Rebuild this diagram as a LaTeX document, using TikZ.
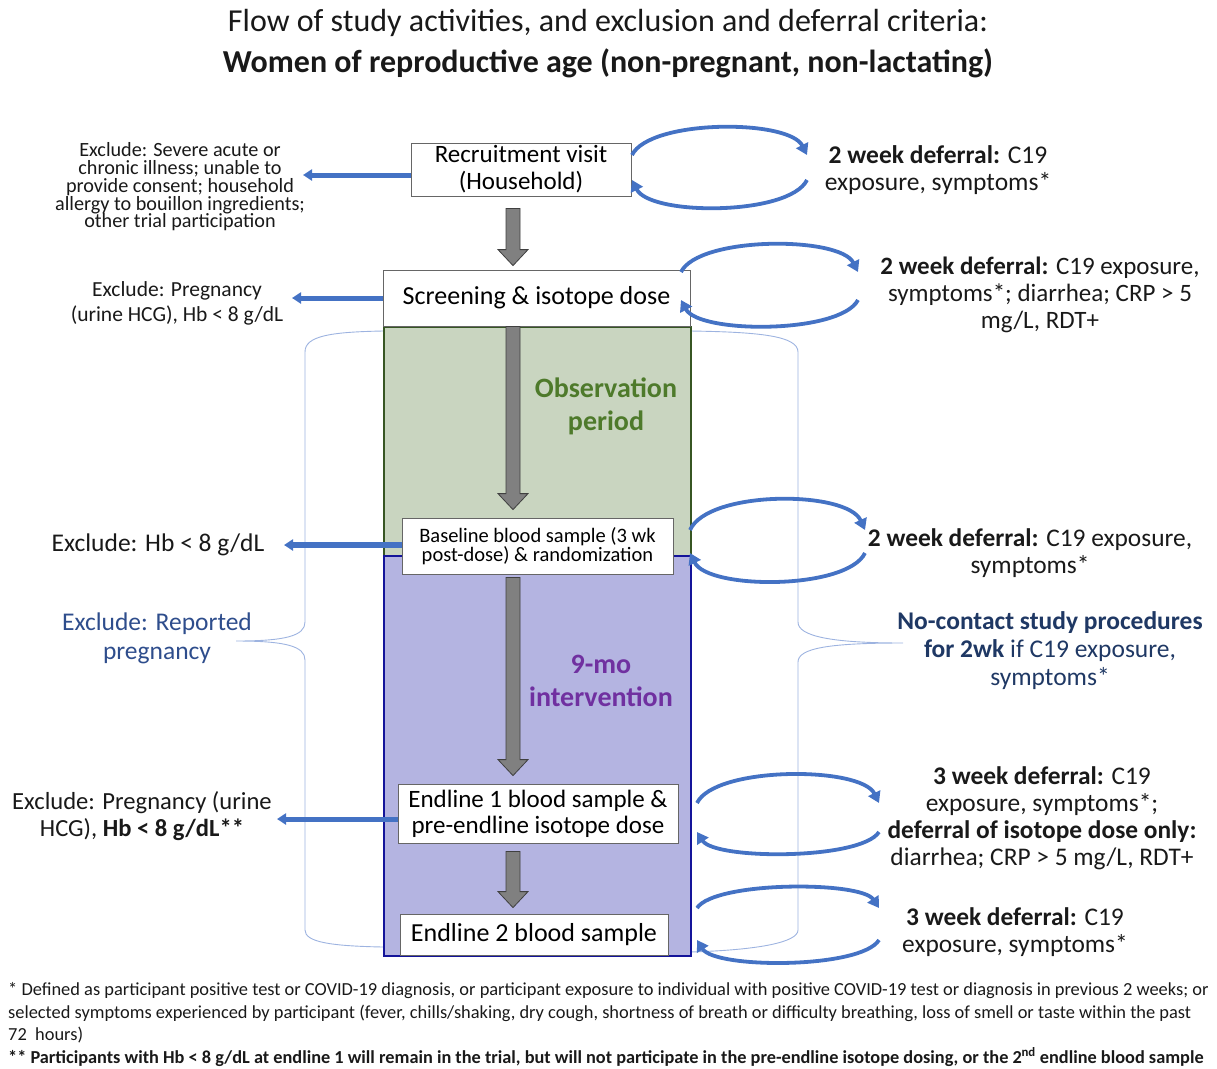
\documentclass[tikz,border=0pt]{standalone}
\usepackage{fontspec}
\setmainfont{Carlito}
\usetikzlibrary{arrows.meta,calc}
\definecolor{exblue}{HTML}{4472C4}
\definecolor{obsfill}{RGB}{201,213,192}
\definecolor{obsline}{HTML}{375623}
\definecolor{obstext}{HTML}{4E7A2B}
\definecolor{intfill}{RGB}{180,180,225}
\definecolor{intline}{HTML}{14149A}
\definecolor{inttext}{HTML}{7030A0}
\definecolor{bracecol}{HTML}{9DB3E0}
\definecolor{repcol}{HTML}{2E4D8C}
\definecolor{navy}{HTML}{1F3864}
\definecolor{arrgray}{HTML}{808080}
\definecolor{arrline}{HTML}{404040}
\newcommand\fs[2]{\fontsize{#1}{#2}\selectfont}
\tikzset{
  stepbox/.style={draw=black!60, fill=white, line width=0.8pt, align=center, inner sep=0pt},
  exarrow/.style={draw=exblue, line width=5pt, -{Triangle[length=9pt,width=11pt]}},
  loopar/.style={draw=exblue, line width=3.8pt, -{Triangle[length=11pt,width=13pt]}},
  brace/.style={draw=bracecol, line width=0.9pt},
  garrow/.style={fill=arrgray, draw=arrline, line width=0.8pt},
  lbl/.style={align=center, inner sep=0pt, text=black!90},
}
\newcommand\grayarrow[4]{%
  \path[garrow] let \p0=(spine), \p1=(#1), \p2=(#2) in
    (\x0-7pt,\y1-#3) -- (\x0+7pt,\y1-#3) -- (\x0+7pt,\y2+#4+16pt) -- (\x0+15pt,\y2+#4+16pt)
    -- (\x0,\y2+#4) -- (\x0-15pt,\y2+#4+16pt) -- (\x0-7pt,\y2+#4+16pt) -- cycle;}
\newcommand\deferloop[6]{%
  \draw[loopar] (#1,#3) .. controls ($(#1,#4)+(18,0)$) and ($(#2,#4)+(-18,0)$) .. (#2,#3);
  \draw[loopar] (#2,#5) .. controls ($(#2,#6)+(-18,0)$) and ($(#1,#6)+(18,0)$) .. (#1,#5);}
\begin{document}
\begin{tikzpicture}[x=1pt,y=-1pt]
\path[use as bounding box] (0,0) rectangle (1217,1068);
\coordinate (spine) at (513,0);

% title
\node[lbl, font=\fs{32}{38}] (t1) at (608,23) {Flow of study activities, and exclusion and deferral criteria:};
\node[lbl, font=\fs{32}{38}\bfseries] (t2) at (608,63) {Women of reproductive age (non-pregnant, non-lactating)};

% braces (behind)
\draw[brace] (383,331) .. controls (330,332) and (305,336) .. (305,352) -- (305,622)
  .. controls (305,636) and (285,641) .. (236,641)
  .. controls (285,641) and (305,646) .. (305,660) -- (305,930)
  .. controls (305,942) and (330,946) .. (383,947);
\draw[brace] (690,331) .. controls (760,332) and (798,336) .. (798,352) -- (798,622)
  .. controls (798,636) and (830,643) .. (903,643)
  .. controls (830,643) and (798,648) .. (798,662) -- (798,930)
  .. controls (798,942) and (760,950) .. (690,952);

% period rectangles
\node[draw=obsline, fill=obsfill, line width=1.6pt, minimum width=307pt, minimum height=229pt, anchor=north west, inner sep=0pt] (obs) at (383,326) {};
\node[draw=intline, fill=intfill, line width=1.6pt, minimum width=307pt, minimum height=400pt, anchor=north west, inner sep=0pt] (int) at (383,555) {};
\node[lbl, text=obstext, font=\fs{28}{33}\bfseries] (obst) at (606,406) {Observation\\period};
\node[lbl, text=inttext, font=\fs{28}{33}\bfseries] (intt) at (601,681) {9-mo\\intervention};

% step boxes
\node[stepbox, minimum width=220pt, minimum height=53pt, font=\fs{25}{27}] (rec) at (521,169.5) {Recruitment visit\\(Household)};
\node[stepbox, minimum width=307pt, minimum height=56pt, font=\fs{26}{28}] (scr) at (536.5,298) {Screening \& isotope dose};
\node[stepbox, minimum width=271pt, minimum height=56pt, font=\fs{20.5}{18}] (base) at (537.5,546) {Baseline blood sample (3 wk\\post-dose) \& randomization};
\node[stepbox, minimum width=280pt, minimum height=59pt, font=\fs{25}{26}] (end1) at (538,813.5) {Endline 1 blood sample \&\\pre-endline isotope dose};
\node[stepbox, minimum width=268pt, minimum height=41pt, font=\fs{26}{28}] (end2) at (534,934.5) {Endline 2 blood sample};

% gray flow arrows
\grayarrow{rec.south}{scr.north}{12pt}{4pt}
\grayarrow{scr.south}{base.north}{0pt}{8pt}
\grayarrow{base.south}{end1.north}{3pt}{8pt}
\grayarrow{end1.south}{end2.north}{8pt}{6pt}

% left exclusion texts
\node[lbl, font=\fs{20.2}{17.8}] (ex1) at (180,187) {Exclude: Severe acute or\\chronic illness; unable to\\provide consent; household\\allergy to bouillon ingredients;\\other trial participation};
\node[lbl, font=\fs{21.5}{25}] (ex2) at (177,303) {Exclude: Pregnancy\\(urine HCG), Hb < 8 g/dL};
\node[lbl, font=\fs{25.5}{27}] (ex3) at (158,545) {Exclude: Hb < 8 g/dL};
\node[lbl, text=repcol, font=\fs{25.5}{29}] (ex4) at (157,638) {Exclude: Reported\\pregnancy};
\node[lbl, font=\fs{24.6}{27}] (ex5) at (142,816) {Exclude: Pregnancy (urine\\HCG), \textbf{Hb < 8 g/dL**}};

% exclusion arrows
\coordinate (e1) at (303,175);
\coordinate (e2) at (292,298);
\coordinate (e3) at (284,545);
\coordinate (e5) at (277,819);
\draw[exarrow] (rec.west |- e1) -- (e1);
\draw[exarrow] (scr.west |- e2) -- (e2);
\draw[exarrow, line width=6.5pt] (base.west |- e3) -- (e3);
\draw[exarrow] (end1.west |- e5) -- (e5);

% deferral loops
\deferloop{632}{807}{155}{119}{180}{216}
\deferloop{681}{858}{272}{236}{300}{334}
\deferloop{690}{865}{530}{490}{553}{590}
\deferloop{697}{879}{803}{766}{832}{860}
\deferloop{697}{879}{908}{881}{940}{969}

% right deferral texts
\node[lbl, font=\fs{25.5}{27}] (d1) at (938,170.5) {\textbf{2 week deferral:} C19\\exposure, symptoms*};
\node[lbl, font=\fs{25}{27}] (d2) at (1040,295) {\textbf{2 week deferral:} C19 exposure,\\symptoms*; diarrhea; CRP > 5\\mg/L, RDT+};
\node[lbl, font=\fs{25.4}{27}] (d3) at (1030,553.5) {\textbf{2 week deferral:} C19 exposure,\\symptoms*};
\node[lbl, text=navy, font=\fs{25.5}{28}] (d4) at (1050,651) {\textbf{No-contact study procedures}\\\textbf{for 2wk} if C19 exposure,\\symptoms*};
\node[lbl, font=\fs{25.4}{27}] (d5) at (1042,818.5) {\textbf{3 week deferral:} C19\\exposure, symptoms*;\\\textbf{deferral of isotope dose only:}\\diarrhea; CRP > 5 mg/L, RDT+};
\node[lbl, font=\fs{25.4}{27}] (d6) at (1015,932.5) {\textbf{3 week deferral:} C19\\exposure, symptoms*};

% footnotes
\node[lbl, anchor=west, font=\fs{18.4}{22}] (f1) at (8,991) {* Defined as participant positive test or COVID-19 diagnosis, or participant exposure to individual with positive COVID-19 test or diagnosis in previous 2 weeks; or};
\node[lbl, anchor=west, font=\fs{18.4}{22}] (f2) at (8,1013) {selected symptoms experienced by participant (fever, chills/shaking, dry cough, shortness of breath or difficulty breathing, loss of smell or taste within the past};
\node[lbl, anchor=west, font=\fs{18.4}{22}] (f3) at (8,1035) {72~ hours)};
\node[lbl, anchor=west, font=\fs{18.3}{22}\bfseries] (f4) at (8,1057) {** Participants with Hb < 8 g/dL at endline 1 will remain in the trial, but will not participate in the pre-endline isotope dosing, or the 2\textsuperscript{nd} endline blood sample};
\end{tikzpicture}
\end{document}
